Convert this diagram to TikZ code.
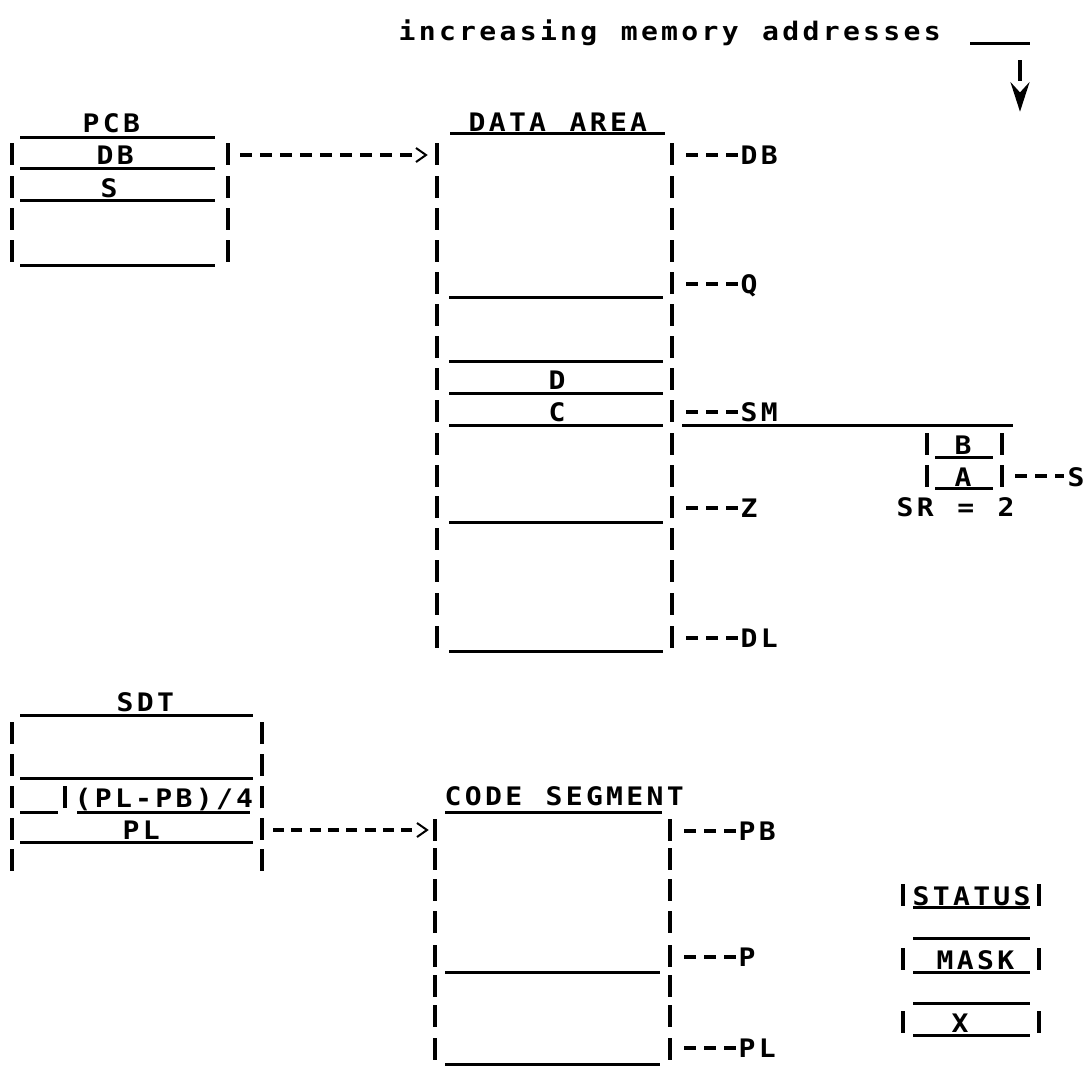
\documentclass[tikz,border=0pt]{standalone}
\usepackage{fontspec}
\newfontfamily\lpfont[FakeStretch=1.1]{DejaVu Sans Mono}
\usetikzlibrary{calc}
% fixed-pitch typesetting: every character in a 20.2pt cell
\newcommand{\lpt}[1]{\lptstep#1\relax}
\def\lptstep#1{\ifx#1\relax\else\makebox[20.2pt]{#1}\expandafter\lptstep\fi}
\newcommand{\lptx}[1]{\expandafter\lpt\expandafter{#1}}
\newcommand{\rowbar}[2]{\draw[barln] (#1,{#2-12}) -- (#1,{#2+10});}
\begin{document}
\begin{tikzpicture}[x=1pt,y=-1pt,
  hln/.style={line width=3pt},
  barln/.style={line width=3.2pt},
  dshln/.style={line width=3.5pt, dash pattern=on 12pt off 8pt},
  dshlnb/.style={line width=3.5pt, dash pattern=on 11pt off 7.3pt},
  chev/.style={line width=2pt, line join=miter},
  lbl/.style={inner sep=0pt, outer sep=0pt, anchor=base west, font=\lpfont\bfseries\fontsize{25.5}{25.5}\selectfont}]
\useasboundingbox (0,0) rectangle (1087,1068);
\fill[white] (0,0) rectangle (1087,1068);

% ---------- top legend ----------
\node[lbl] (inc) at (397,40) {\lpt{increasing~memory~addresses}};
\coordinate (incA) at (970,43);
\coordinate (incB) at (1030,43);
\draw[hln] (incA) -- (incB);
\coordinate (incC) at (1020,60);
\coordinate (incD) at (1020,81);
\draw[barln] (incC) -- (incD);
\draw[line width=3.5pt, line join=miter, fill] (1014.5,89) -- (1020,106) -- (1025.5,89) -- (1020,95) -- cycle;

% ---------- PCB ----------
\node[lbl] (pcbT) at (81,132) {\lpt{PCB}};
\node[lbl] (pcbDB) at (95,164) {\lpt{DB}};
\node[lbl] (pcbS) at (99,197) {\lpt{S}};
\foreach \yy in {137,168,200,265} {\draw[hln] (20,\yy) -- (215,\yy);}
\foreach \yy in {155,188,220,252} {\rowbar{12}{\yy}\rowbar{228}{\yy}}

% arrow PCB -> DATA AREA
\coordinate (pcbOut) at (240,155);
\coordinate (dataIn) at (413,155);
\draw[dshln] (pcbOut) -- (dataIn);
\draw[chev] (416,148) -- (426,155) -- (416,162);

% ---------- DATA AREA ----------
\node[lbl] (dataT) at (467,131) {\lpt{DATA~AREA}};
\draw[hln] (450,133) -- (665,133);
\foreach \yy in {155,188,220,252,284,316,348,380,412,445,477,508,540,572,605,638} {\rowbar{437}{\yy}\rowbar{672}{\yy}}
\foreach \yy in {297,361,393,425,522,651} {\draw[hln] (449,\yy) -- (663,\yy);}
\node[lbl] (dataD) at (547,389) {\lpt{D}};
\node[lbl] (dataC) at (547,421) {\lpt{C}};
% right-hand address labels
\foreach \yy/\nm in {155/DB,284/Q,412/SM,508/Z,638/DL} {
  \draw[dshln] (686,\yy) -- (738,\yy);
  \node[lbl] (lab\nm) at (739,{\yy+9}) {\lptx{\nm}};
}
\draw[hln] (682,425) -- (1013,425);

% ---------- stack ----------
\foreach \yy in {445,477} {\rowbar{927}{\yy}\rowbar{1002}{\yy}}
\draw[hln] (935,457) -- (993,457);
\draw[hln] (935,488) -- (993,488);
\node[lbl] (stB) at (953,454) {\lpt{B}};
\node[lbl] (stA) at (953,486) {\lpt{A}};
\draw[dshln] (1015,476) -- (1064,476);
\node[lbl] (stS) at (1066,486) {\lpt{S}};
\node[lbl] (stSR) at (895,516) {\lpt{SR~=~2}};

% ---------- SDT ----------
\node[lbl] (sdtT) at (115,711) {\lpt{SDT}};
\draw[hln] (20,715) -- (253,715);
\foreach \yy in {734,766,798,830,861} {\rowbar{12}{\yy}\rowbar{262}{\yy}}
\draw[hln] (20,778) -- (253,778);
\draw[hln] (20,812) -- (58,812);
\rowbar{65}{798}
\node[lbl] (sdtLen) at (73,807) {\lpt{(PL-PB)/4}};
\draw[hln] (77,812) -- (250,812);
\node[lbl] (sdtPL) at (121,839) {\lpt{PL}};
\draw[hln] (20,842) -- (253,842);

% arrow SDT -> CODE SEGMENT
\coordinate (sdtOut) at (273,830);
\coordinate (codeIn) at (413,830);
\draw[dshlnb] (sdtOut) -- (codeIn);
\draw[chev] (417,823) -- (427,830) -- (417,837);

% ---------- CODE SEGMENT ----------
\node[lbl] (codeT) at (443,805) {\lpt{CODE~SEGMENT}};
\draw[hln] (445,812) -- (662,812);
\foreach \yy in {831,860,891,923,957,987,1017,1050} {\rowbar{435}{\yy}\rowbar{670}{\yy}}
\draw[hln] (445,972) -- (660,972);
\draw[hln] (445,1064) -- (660,1064);
\foreach \yy/\nm in {831/PB,957/P,1048/PL} {
  \draw[dshln] (684,\yy) -- (736,\yy);
  \node[lbl] (lab\nm c) at (737,{\yy+9}) {\lptx{\nm}};
}

% ---------- STATUS / MASK / X ----------
\foreach \yy in {896,960,1023} {\rowbar{903}{\yy}\rowbar{1039}{\yy}}
\foreach \yy in {907,938,972,1003,1035} {\draw[hln] (913,\yy) -- (1030,\yy);}
\node[lbl] (regS) at (911,905) {\lpt{STATUS}};
\node[lbl] (regM) at (935,969) {\lpt{MASK}};
\node[lbl] (regX) at (950,1032) {\lpt{X}};
\end{tikzpicture}
\end{document}
